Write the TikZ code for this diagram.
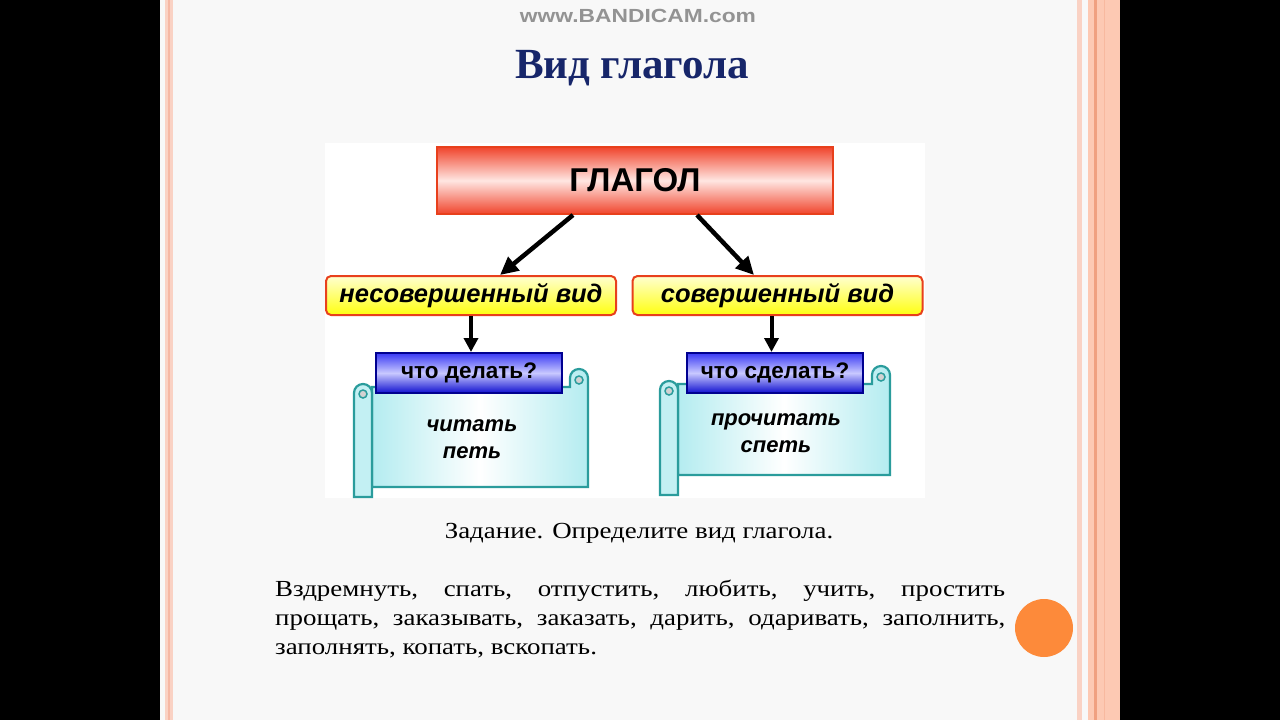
\documentclass[tikz,border=0pt]{standalone}
\usepackage{fontspec}
\setmainfont{Liberation Serif}
\newfontfamily\arialf{Liberation Sans}
\usetikzlibrary{arrows.meta,calc}
\definecolor{slidebg}{HTML}{F8F8F8}
\definecolor{stripeA}{HTML}{FAD2C4}
\definecolor{stripeB}{HTML}{F6B8A4}
\definecolor{salmon}{HTML}{FDC9B3}
\definecolor{salmondk}{HTML}{F0A080}
\definecolor{navyt}{HTML}{17266A}
\definecolor{redb}{HTML}{E8401C}
\definecolor{redf}{HTML}{F0442C}
\definecolor{redm}{HTML}{FFE6E2}
\definecolor{yelt}{HTML}{FFFFD0}
\definecolor{yelb}{HTML}{FFFF10}
\definecolor{blut}{HTML}{3A3AF4}
\definecolor{blum}{HTML}{C8C8FF}
\definecolor{blub}{HTML}{1010D0}
\definecolor{blud}{HTML}{000090}
\definecolor{tealb}{HTML}{2A9C9C}
\definecolor{cyanf}{HTML}{B4ECF0}
\definecolor{orangec}{HTML}{FD8A3A}
\newcommand\myscroll[6]{%
  \path[draw=tealb,line width=2.2pt,left color=cyanf,right color=cyanf,middle color=white]
    (#2,#5) -- (#2,#4) -- (#3-18,#4) -- (#3-18,#4-9)
    arc[start angle=180,end angle=360,radius=9] -- (#3,#5) -- cycle;
  \path[draw=tealb,line width=1.5pt,fill=gray!35] (#3-9,#4-7) circle (4);
  \path[draw=tealb,line width=2.2pt,fill=cyanf!80]
    (#1,#6) -- (#1,#4+6) arc[start angle=180,end angle=360,radius=9] -- (#2,#6) -- cycle;
  \path[draw=tealb,line width=1.5pt,fill=gray!35] (#1+9,#4+7) circle (4);
}
\newcommand\wide[1]{\scalebox{1.17}[1]{#1}}
\tikzset{
  arr/.style={line width=4.5pt,-{Triangle[length=18pt,width=17pt]}},
  arrd/.style={line width=4pt,-{Triangle[length=14pt,width=14pt]}},
  redbox/.style={draw=redb,line width=2pt,top color=redf,bottom color=redf,middle color=redm,
    minimum width=396pt,minimum height=67pt,inner sep=0pt,
    font=\arialf\bfseries\fontsize{33}{36}\selectfont},
  yelbox/.style={draw=redb,line width=2pt,rounded corners=5pt,top color=yelt,bottom color=yelb,
    minimum width=290pt,minimum height=39pt,inner sep=0pt,
    font=\arialf\bfseries\itshape\fontsize{25.5}{28}\selectfont},
  blubox/.style={draw=blud,line width=2pt,top color=blut,bottom color=blub,middle color=blum,
    minimum height=40pt,inner sep=0pt,
    font=\arialf\bfseries\fontsize{22.5}{24}\selectfont},
  scrtxt/.style={align=center,inner sep=0pt,
    font=\arialf\bfseries\itshape\fontsize{22}{27}\selectfont},
  bodytxt/.style={inner sep=0pt,anchor=base west,font=\fontsize{23}{29}\selectfont}
}
\begin{document}
\begin{tikzpicture}[x=1pt,y=-1pt]
\useasboundingbox (0,0) rectangle (1280,720);
\fill[black] (0,0) rectangle (1280,720);
\fill[slidebg] (160,0) rectangle (1120,720);
% border stripes
\fill[stripeA] (165,0) rectangle (173,720);
\fill[stripeB] (168,0) rectangle (170,720);
\fill[stripeA] (1077,0) rectangle (1082,720);
\fill[salmon] (1088,0) rectangle (1120,720);
\fill[salmondk] (1094,0) rectangle (1097,720);
\fill[salmondk!40!salmon] (1104,0) rectangle (1105,720);
% watermark
\node[font=\arialf\bfseries\fontsize{19}{19}\selectfont,text=gray!85,inner sep=0pt] (wm) at (638,16)
  {\scalebox{1.2}[1]{www.BANDICAM.com}};
% title
\node[font=\bfseries\fontsize{43}{46}\selectfont,text=navyt,inner sep=0pt,anchor=base] (title) at (632,78) {Вид глагола};
% diagram panel
\fill[white] (325,143) rectangle (925,498);
\node[redbox] (glagol) at (635,180.5) {ГЛАГОЛ};
\node[yelbox] (nesov) at (471,295.5) {несовершенный вид};
\node[yelbox] (sov) at (777.5,295.5) {совершенный вид};
\draw[arr] ([xshift=-62pt]glagol.south) -- ([xshift=29pt]nesov.north);
\draw[arr] ([xshift=62pt]glagol.south) -- ([xshift=-23.5pt]sov.north);
% scrolls
\myscroll{354}{372}{588}{387}{487}{497}
\myscroll{660}{678}{890}{384}{475}{495}
\node[blubox,minimum width=186pt] (q1) at (469,373) {что делать?};
\node[blubox,minimum width=176pt] (q2) at (775,373) {что сделать?};
\draw[arrd] (nesov.south) -- (nesov.south |- q1.north);
\draw[arrd] ([xshift=-6pt]sov.south) -- ([xshift=-6pt]sov.south |- q2.north);
\node[scrtxt] (t1) at (472,439) {читать\\петь};
\node[scrtxt] (t2) at (776,433) {прочитать\\спеть};
% task text
\node[font=\fontsize{23}{26}\selectfont,inner sep=0pt,anchor=base] (task) at (639,538) {\wide{Задание. Определите вид глагола.}};
\node[bodytxt] (l1) at (275,596) {\wide{\makebox[624pt][s]{Вздремнуть, спать, отпустить, любить, учить, простить}}};
\node[bodytxt] (l2) at (275,625) {\wide{\makebox[624pt][s]{прощать, заказывать, заказать, дарить, одаривать, заполнить,}}};
\node[bodytxt] (l3) at (275,654) {\wide{заполнять, копать, вскопать.}};
% orange circle
\fill[orangec] (1044,628) circle (29);
\end{tikzpicture}
\end{document}
